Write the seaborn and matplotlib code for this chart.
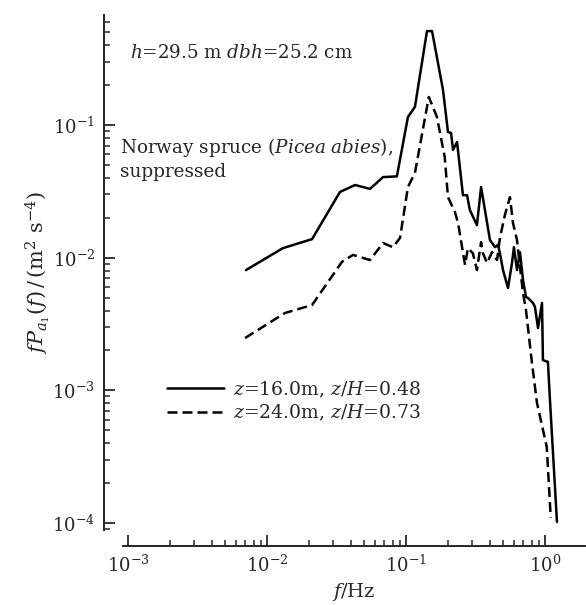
import numpy as np
import pandas as pd
import seaborn as sns
import matplotlib.pyplot as plt
from matplotlib.ticker import LogLocator, NullFormatter

# spectra (f in Hz, fPa1 in m^2 s^-4)
f_16 = [0.00706, 0.0130, 0.0211, 0.0335, 0.043, 0.0551, 0.0684, 0.086,
        0.1033, 0.116, 0.1416, 0.154, 0.1846, 0.2005, 0.211, 0.218, 0.233,
        0.257, 0.275, 0.288, 0.324, 0.347, 0.402, 0.437, 0.459, 0.474, 0.499,
        0.542, 0.579, 0.598, 0.629, 0.661, 0.695, 0.730, 0.755, 0.820, 0.847,
        0.891, 0.952, 0.967, 1.05, 1.086, 1.22]
p_16 = [0.00807, 0.0118, 0.0138, 0.0313, 0.0353, 0.033, 0.0405, 0.0410,
        0.115, 0.137, 0.51, 0.51, 0.184, 0.0885, 0.0871, 0.0649, 0.0745,
        0.0296, 0.0296, 0.0229, 0.0176, 0.0341, 0.0136, 0.0120, 0.0125, 0.0108,
        0.00807, 0.00591, 0.00912, 0.0120, 0.00807, 0.0110, 0.00679, 0.00506,
        0.00497, 0.00456, 0.00426, 0.00295, 0.00456, 0.00169, 0.00164,
        0.000847, 0.000102]

f_24 = [0.00695, 0.01346, 0.0211, 0.0347, 0.0416, 0.0551, 0.0684, 0.0806,
        0.0906, 0.1033, 0.116, 0.146, 0.167, 0.19, 0.2005, 0.225, 0.237,
        0.266, 0.279, 0.303, 0.324, 0.347, 0.358, 0.383, 0.416, 0.452, 0.474,
        0.515, 0.560, 0.589, 0.629, 0.661, 0.695, 0.730, 0.806, 0.876, 1.03,
        1.10]
p_24 = [0.00248, 0.00383, 0.0044, 0.00933, 0.0105, 0.0096, 0.0129, 0.012,
        0.0141, 0.0341, 0.0436, 0.1626, 0.115, 0.0573, 0.0286, 0.0221, 0.0182,
        0.00881, 0.0118, 0.0108, 0.00807, 0.0131, 0.0108, 0.00912, 0.0110,
        0.00961, 0.0141, 0.0210, 0.0286, 0.0182, 0.0136, 0.00851, 0.00542,
        0.00404, 0.00161, 0.000804, 0.000375, 0.00011]

labels = [r"$z$=16.0m, $z/H$=0.48", r"$z$=24.0m, $z/H$=0.73"]

sns.set_style("ticks")
plt.rcParams['font.family'] = ['DejaVu Serif']
plt.rcParams['mathtext.fontset'] = 'dejavuserif'

W, H = 586, 605
fig = plt.figure(figsize=(W / 100, H / 100), dpi=100)
# axes box in pixels: x 123..585, y 15..530
ax = fig.add_axes([123 / W, 1 - 530 / H, (585 - 123) / W, (530 - 15) / H])

sns.lineplot(x=f_16, y=p_16, ax=ax, color="black", lw=1.8,
             estimator=None, sort=False, label=labels[0])
sns.lineplot(x=f_24, y=p_24, ax=ax, color="black", lw=1.8, linestyle=(0, (4, 2)),
             estimator=None, sort=False, label=labels[1])

ax.set_xscale("log")
ax.set_yscale("log")
ax.set_xlim(10 ** -3.036, 10 ** 0.288)
ax.set_ylim(10 ** -4.052, 10 ** -0.171)

for s in ["top", "right"]:
    ax.spines[s].set_visible(False)
ax.spines["left"].set_position(("outward", 14))
ax.spines["bottom"].set_position(("outward", 11.5))
ax.spines["left"].set_linewidth(1.4)
ax.spines["bottom"].set_linewidth(1.4)

ax.xaxis.set_major_locator(LogLocator(base=10, numticks=10))
ax.yaxis.set_major_locator(LogLocator(base=10, numticks=10))
ax.xaxis.set_minor_locator(LogLocator(base=10, subs=np.arange(2, 10), numticks=10))
ax.yaxis.set_minor_locator(LogLocator(base=10, subs=np.arange(2, 10), numticks=10))
ax.xaxis.set_minor_formatter(NullFormatter())
ax.yaxis.set_minor_formatter(NullFormatter())
ax.tick_params(which="major", direction="in", length=8, width=1.3, labelsize=13, pad=6)
ax.tick_params(which="minor", direction="in", length=4, width=1.1)

ax.set_xlabel(r"$f$/Hz", fontsize=14, labelpad=4)
ax.set_ylabel(r"$fP_{a_1}(f)\,/\,(\mathrm{m}^2\ \mathrm{s}^{-4})$", fontsize=15, labelpad=0)

ax.legend(loc="upper left", bbox_to_anchor=(158 / W, 1 - 370 / H),
          bbox_transform=fig.transFigure, frameon=False, fontsize=13.5,
          handlelength=3.0, handletextpad=0.5, labelspacing=0.15, borderpad=0)

fig.text(130 / W, 1 - 53 / H, r"$h$=29.5 m $dbh$=25.2 cm", fontsize=13.2, va="center")
fig.text(120 / W, 1 - 148 / H, "Norway spruce (" + r"$Picea\ abies$" + "),",
         fontsize=13.2, va="center")
fig.text(120 / W, 1 - 172 / H, "suppressed", fontsize=13.2, va="center")

fig.savefig("out.png", dpi=100)
